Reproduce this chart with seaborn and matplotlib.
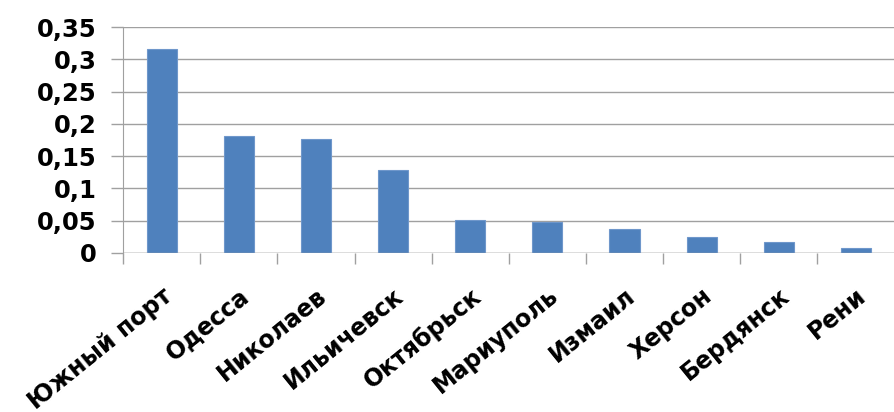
import numpy as np
import matplotlib
matplotlib.use('Agg')
import matplotlib.pyplot as plt
from matplotlib.ticker import FuncFormatter, FixedLocator
import seaborn as sns
import pandas as pd

sns.set_style('white')
plt.rcParams['font.family'] = ['DejaVu Sans']

# Ports and their shares
ports = ['Южный порт', 'Одесса', 'Николаев', 'Ильичевск', 'Октябрьск',
         'Мариуполь', 'Измаил', 'Херсон', 'Бердянск', 'Рени']
shares = [0.316, 0.181, 0.177, 0.129, 0.051, 0.048, 0.037, 0.024, 0.017, 0.008]
yticks = [0, 0.05, 0.1, 0.15, 0.2, 0.25, 0.3, 0.35]

df = pd.DataFrame({'port': ports, 'share': shares})

fig = plt.figure(figsize=(8.95, 4.12), dpi=100)
ax = fig.add_axes([0.1375, 0.386, 0.862, 0.548])

sns.barplot(data=df, x='port', y='share', color='#4F81BD', width=0.39,
            saturation=1, edgecolor='#6F97CB', linewidth=0.8, ax=ax, zorder=3)

ax.set_xlim(-0.5, len(ports) - 0.5)
ax.set_ylim(0, 0.35)
ax.set_yticks(yticks)
ax.yaxis.set_major_formatter(FuncFormatter(lambda v, p: ('%g' % v).replace('.', ',')))
ax.grid(axis='y', color='#a0a0a0', linewidth=1, zorder=0)

for s in ['top', 'right', 'bottom']:
    ax.spines[s].set_visible(False)
ax.spines['left'].set_color('#a0a0a0')
ax.axhline(0, color='#a0a0a0', linewidth=1, zorder=4)

# category separators below the axis
ax.xaxis.set_minor_locator(FixedLocator(np.arange(-0.5, len(ports), 1.0)))
ax.tick_params(axis='x', which='minor', bottom=True, length=8, color='#a0a0a0', width=1)
ax.tick_params(axis='x', which='major', bottom=False, length=0, pad=22)
ax.tick_params(axis='y', left=True, length=9, color='#a0a0a0', width=1, pad=10)

for lbl in ax.get_xticklabels():
    lbl.set_rotation(39)
    lbl.set_ha('right')
    lbl.set_rotation_mode('anchor')
    lbl.set_fontsize(17)
    lbl.set_fontweight('bold')
    lbl.set_color('black')
for lbl in ax.get_yticklabels():
    lbl.set_fontsize(17.5)
    lbl.set_fontweight('bold')
    lbl.set_color('black')

ax.set_xlabel('')
ax.set_ylabel('')

fig.savefig('out.png', dpi=100)
